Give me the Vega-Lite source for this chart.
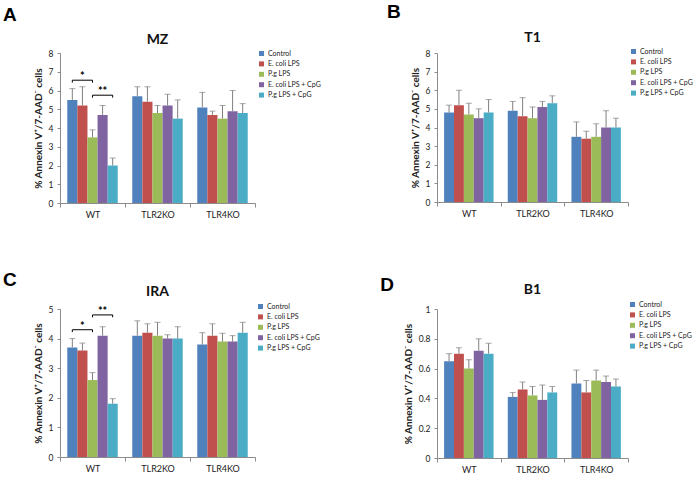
{
  "$schema": "https://vega.github.io/schema/vega-lite/v6.json",
  "background": "white",
  "padding": {"left": 3, "top": 3, "right": 0, "bottom": 0},
  "config": {
    "font": "Lato",
    "view": {"stroke": null},
    "axis": {"labelFont": "Lato", "labelFontSize": 8.5, "labelColor": "#222", "domainColor": "#8c8c8c", "tickColor": "#8c8c8c", "grid": false, "tickSize": 3, "titleFont": "Lato", "titleFontSize": 10, "titleFontWeight": "bold", "titleColor": "#222"},
    "legend": {"labelFont": "Lato", "labelFontSize": 7, "labelColor": "#222", "symbolType": "square", "symbolSize": 25, "rowPadding": 2.4, "labelOffset": 3, "symbolStrokeWidth": 0, "padding": 0},
    "title": {"font": "Lato", "fontWeight": "bold", "color": "#111"}
  },
  "datasets": {
    "bars": [
      {"panel": "MZ", "group": "WT", "treatment": "Control", "value": 5.5, "top": 6.1},
      {"panel": "MZ", "group": "WT", "treatment": "E. coli LPS", "value": 5.2, "top": 6.2},
      {"panel": "MZ", "group": "WT", "treatment": "P.g LPS", "value": 3.5, "top": 3.9},
      {"panel": "MZ", "group": "WT", "treatment": "E. coli LPS + CpG", "value": 4.7, "top": 5.2},
      {"panel": "MZ", "group": "WT", "treatment": "P.g LPS + CpG", "value": 2.0, "top": 2.4},
      {"panel": "MZ", "group": "TLR2KO", "treatment": "Control", "value": 5.7, "top": 6.2},
      {"panel": "MZ", "group": "TLR2KO", "treatment": "E. coli LPS", "value": 5.4, "top": 6.2},
      {"panel": "MZ", "group": "TLR2KO", "treatment": "P.g LPS", "value": 4.8, "top": 5.2},
      {"panel": "MZ", "group": "TLR2KO", "treatment": "E. coli LPS + CpG", "value": 5.2, "top": 5.8},
      {"panel": "MZ", "group": "TLR2KO", "treatment": "P.g LPS + CpG", "value": 4.5, "top": 5.5},
      {"panel": "MZ", "group": "TLR4KO", "treatment": "Control", "value": 5.1, "top": 5.9},
      {"panel": "MZ", "group": "TLR4KO", "treatment": "E. coli LPS", "value": 4.7, "top": 4.9},
      {"panel": "MZ", "group": "TLR4KO", "treatment": "P.g LPS", "value": 4.5, "top": 5.2},
      {"panel": "MZ", "group": "TLR4KO", "treatment": "E. coli LPS + CpG", "value": 4.9, "top": 6.0},
      {"panel": "MZ", "group": "TLR4KO", "treatment": "P.g LPS + CpG", "value": 4.8, "top": 5.3},
      {"panel": "T1", "group": "WT", "treatment": "Control", "value": 4.8, "top": 5.2},
      {"panel": "T1", "group": "WT", "treatment": "E. coli LPS", "value": 5.2, "top": 6.0},
      {"panel": "T1", "group": "WT", "treatment": "P.g LPS", "value": 4.7, "top": 5.3},
      {"panel": "T1", "group": "WT", "treatment": "E. coli LPS + CpG", "value": 4.5, "top": 5.0},
      {"panel": "T1", "group": "WT", "treatment": "P.g LPS + CpG", "value": 4.8, "top": 5.5},
      {"panel": "T1", "group": "TLR2KO", "treatment": "Control", "value": 4.9, "top": 5.4},
      {"panel": "T1", "group": "TLR2KO", "treatment": "E. coli LPS", "value": 4.6, "top": 5.6},
      {"panel": "T1", "group": "TLR2KO", "treatment": "P.g LPS", "value": 4.5, "top": 5.1},
      {"panel": "T1", "group": "TLR2KO", "treatment": "E. coli LPS + CpG", "value": 5.1, "top": 5.4},
      {"panel": "T1", "group": "TLR2KO", "treatment": "P.g LPS + CpG", "value": 5.3, "top": 5.7},
      {"panel": "T1", "group": "TLR4KO", "treatment": "Control", "value": 3.5, "top": 4.3},
      {"panel": "T1", "group": "TLR4KO", "treatment": "E. coli LPS", "value": 3.4, "top": 3.8},
      {"panel": "T1", "group": "TLR4KO", "treatment": "P.g LPS", "value": 3.5, "top": 4.2},
      {"panel": "T1", "group": "TLR4KO", "treatment": "E. coli LPS + CpG", "value": 4.0, "top": 4.9},
      {"panel": "T1", "group": "TLR4KO", "treatment": "P.g LPS + CpG", "value": 4.0, "top": 4.5},
      {"panel": "IRA", "group": "WT", "treatment": "Control", "value": 3.7, "top": 4.0},
      {"panel": "IRA", "group": "WT", "treatment": "E. coli LPS", "value": 3.6, "top": 3.85},
      {"panel": "IRA", "group": "WT", "treatment": "P.g LPS", "value": 2.6, "top": 2.85},
      {"panel": "IRA", "group": "WT", "treatment": "E. coli LPS + CpG", "value": 4.1, "top": 4.4},
      {"panel": "IRA", "group": "WT", "treatment": "P.g LPS + CpG", "value": 1.8, "top": 1.97},
      {"panel": "IRA", "group": "TLR2KO", "treatment": "Control", "value": 4.1, "top": 4.6},
      {"panel": "IRA", "group": "TLR2KO", "treatment": "E. coli LPS", "value": 4.2, "top": 4.5},
      {"panel": "IRA", "group": "TLR2KO", "treatment": "P.g LPS", "value": 4.1, "top": 4.55},
      {"panel": "IRA", "group": "TLR2KO", "treatment": "E. coli LPS + CpG", "value": 4.0, "top": 4.13},
      {"panel": "IRA", "group": "TLR2KO", "treatment": "P.g LPS + CpG", "value": 4.0, "top": 4.4},
      {"panel": "IRA", "group": "TLR4KO", "treatment": "Control", "value": 3.8, "top": 4.2},
      {"panel": "IRA", "group": "TLR4KO", "treatment": "E. coli LPS", "value": 4.1, "top": 4.5},
      {"panel": "IRA", "group": "TLR4KO", "treatment": "P.g LPS", "value": 3.9, "top": 4.18},
      {"panel": "IRA", "group": "TLR4KO", "treatment": "E. coli LPS + CpG", "value": 3.9, "top": 4.1},
      {"panel": "IRA", "group": "TLR4KO", "treatment": "P.g LPS + CpG", "value": 4.2, "top": 4.55},
      {"panel": "B1", "group": "WT", "treatment": "Control", "value": 0.65, "top": 0.70},
      {"panel": "B1", "group": "WT", "treatment": "E. coli LPS", "value": 0.70, "top": 0.74},
      {"panel": "B1", "group": "WT", "treatment": "P.g LPS", "value": 0.60, "top": 0.66},
      {"panel": "B1", "group": "WT", "treatment": "E. coli LPS + CpG", "value": 0.72, "top": 0.80},
      {"panel": "B1", "group": "WT", "treatment": "P.g LPS + CpG", "value": 0.70, "top": 0.77},
      {"panel": "B1", "group": "TLR2KO", "treatment": "Control", "value": 0.41, "top": 0.44},
      {"panel": "B1", "group": "TLR2KO", "treatment": "E. coli LPS", "value": 0.46, "top": 0.51},
      {"panel": "B1", "group": "TLR2KO", "treatment": "P.g LPS", "value": 0.42, "top": 0.48},
      {"panel": "B1", "group": "TLR2KO", "treatment": "E. coli LPS + CpG", "value": 0.39, "top": 0.49},
      {"panel": "B1", "group": "TLR2KO", "treatment": "P.g LPS + CpG", "value": 0.44, "top": 0.48},
      {"panel": "B1", "group": "TLR4KO", "treatment": "Control", "value": 0.50, "top": 0.59},
      {"panel": "B1", "group": "TLR4KO", "treatment": "E. coli LPS", "value": 0.44, "top": 0.52},
      {"panel": "B1", "group": "TLR4KO", "treatment": "P.g LPS", "value": 0.52, "top": 0.59},
      {"panel": "B1", "group": "TLR4KO", "treatment": "E. coli LPS + CpG", "value": 0.51, "top": 0.55},
      {"panel": "B1", "group": "TLR4KO", "treatment": "P.g LPS + CpG", "value": 0.48, "top": 0.53}
    ],
    "brackets": [
      {"panel": "MZ", "id": "a1", "group": "WT", "treatment": "Control", "y": 6.42, "k": 1},
      {"panel": "MZ", "id": "a1", "group": "WT", "treatment": "Control", "y": 6.55, "k": 2},
      {"panel": "MZ", "id": "a1", "group": "WT", "treatment": "P.g LPS", "y": 6.55, "k": 3},
      {"panel": "MZ", "id": "a1", "group": "WT", "treatment": "P.g LPS", "y": 6.42, "k": 4},
      {"panel": "MZ", "id": "a2", "group": "WT", "treatment": "P.g LPS", "y": 5.62, "k": 1},
      {"panel": "MZ", "id": "a2", "group": "WT", "treatment": "P.g LPS", "y": 5.75, "k": 2},
      {"panel": "MZ", "id": "a2", "group": "WT", "treatment": "P.g LPS + CpG", "y": 5.75, "k": 3},
      {"panel": "MZ", "id": "a2", "group": "WT", "treatment": "P.g LPS + CpG", "y": 5.62, "k": 4},
      {"panel": "IRA", "id": "c1", "group": "WT", "treatment": "Control", "y": 4.22, "k": 1},
      {"panel": "IRA", "id": "c1", "group": "WT", "treatment": "Control", "y": 4.3, "k": 2},
      {"panel": "IRA", "id": "c1", "group": "WT", "treatment": "P.g LPS", "y": 4.3, "k": 3},
      {"panel": "IRA", "id": "c1", "group": "WT", "treatment": "P.g LPS", "y": 4.22, "k": 4},
      {"panel": "IRA", "id": "c2", "group": "WT", "treatment": "P.g LPS", "y": 4.72, "k": 1},
      {"panel": "IRA", "id": "c2", "group": "WT", "treatment": "P.g LPS", "y": 4.8, "k": 2},
      {"panel": "IRA", "id": "c2", "group": "WT", "treatment": "P.g LPS + CpG", "y": 4.8, "k": 3},
      {"panel": "IRA", "id": "c2", "group": "WT", "treatment": "P.g LPS + CpG", "y": 4.72, "k": 4}
    ],
    "stars": [
      {"panel": "MZ", "group": "WT", "treatment": "E. coli LPS", "y": 6.55, "label": "*"},
      {"panel": "MZ", "group": "WT", "treatment": "E. coli LPS + CpG", "y": 5.75, "label": "**"},
      {"panel": "IRA", "group": "WT", "treatment": "E. coli LPS", "y": 4.3, "label": "*"},
      {"panel": "IRA", "group": "WT", "treatment": "E. coli LPS + CpG", "y": 4.8, "label": "**"}
    ]
  },
  "columns": 2,
  "spacing": {"column": 59, "row": 52},
  "resolve": {"scale": {"color": "independent", "x": "independent", "y": "independent", "xOffset": "independent"}, "legend": {"color": "independent"}},
  "concat": [
    {
      "title": {"text": "A", "anchor": "start", "frame": "bounds", "font": "Liberation Sans", "fontSize": 19, "fontWeight": "bold", "color": "#000", "dx": -30, "offset": 8},
      "resolve": {"scale": {"color": "independent"}, "legend": {"color": "independent"}},
      "vconcat": [
        {
          "width": 195, "height": 150,
          "title": {"text": "MZ", "fontSize": 14, "offset": 2},
          "encoding": {
            "x": {"field": "group", "type": "nominal", "sort": ["WT", "TLR2KO", "TLR4KO"], "scale": {"domain": ["WT", "TLR2KO", "TLR4KO"], "paddingInner": 0, "paddingOuter": 0}, "axis": {"title": null, "labelAngle": 0, "tickBand": "extent", "tickSize": 4, "labelPadding": 3, "labelFontSize": 9}},
            "xOffset": {"field": "treatment", "type": "nominal", "sort": ["Control", "E. coli LPS", "P.g LPS", "E. coli LPS + CpG", "P.g LPS + CpG"], "scale": {"domain": ["Control", "E. coli LPS", "P.g LPS", "E. coli LPS + CpG", "P.g LPS + CpG"], "paddingInner": 0, "paddingOuter": 0.72}}
          },
          "layer": [
            {
              "data": {"name": "bars"},
              "transform": [{"filter": "datum.panel === 'MZ'"}],
              "mark": {"type": "bar"},
              "encoding": {
                "y": {"field": "value", "type": "quantitative", "scale": {"domain": [0, 8], "nice": false}, "axis": {"title": "% Annexin V⁺/7-AAD⁻ cells", "values": [0, 1, 2, 3, 4, 5, 6, 7, 8], "labelPadding": 4, "titlePadding": 5}},
                "color": {"field": "treatment", "type": "nominal", "scale": {"domain": ["Control", "E. coli LPS", "P.g LPS", "E. coli LPS + CpG", "P.g LPS + CpG"], "range": ["#4F81BD", "#C0504D", "#9BBB59", "#8064A2", "#4BACC6"]}, "legend": {"title": null, "orient": "none", "legendX": 198, "legendY": -3}}
              }
            },
            {
              "data": {"name": "bars"},
              "transform": [{"filter": "datum.panel === 'MZ'"}],
              "mark": {"type": "rule", "color": "#808080", "strokeWidth": 1},
              "encoding": {"y": {"field": "value", "type": "quantitative", "axis": {"title": "% Annexin V⁺/7-AAD⁻ cells", "values": [0, 1, 2, 3, 4, 5, 6, 7, 8], "labelPadding": 4, "titlePadding": 5}}, "y2": {"field": "top"}}
            },
            {
              "data": {"name": "bars"},
              "transform": [{"filter": "datum.panel === 'MZ'"}],
              "mark": {"type": "tick", "orient": "horizontal", "color": "#808080", "size": 6, "thickness": 1},
              "encoding": {"y": {"field": "top", "type": "quantitative", "axis": {"title": "% Annexin V⁺/7-AAD⁻ cells", "values": [0, 1, 2, 3, 4, 5, 6, 7, 8], "labelPadding": 4, "titlePadding": 5}}}
            },
            {
              "data": {"name": "brackets"},
              "transform": [{"filter": "datum.panel === 'MZ'"}],
              "mark": {"type": "line", "color": "#000", "strokeWidth": 1},
              "encoding": {"y": {"field": "y", "type": "quantitative", "axis": {"title": "% Annexin V⁺/7-AAD⁻ cells", "values": [0, 1, 2, 3, 4, 5, 6, 7, 8], "labelPadding": 4, "titlePadding": 5}}, "detail": {"field": "id"}, "order": {"field": "k"}}
            },
            {
              "data": {"name": "stars"},
              "transform": [{"filter": "datum.panel === 'MZ'"}],
              "mark": {"type": "text", "baseline": "bottom", "dy": 2, "fontSize": 11, "fontWeight": "bold", "color": "#000"},
              "encoding": {"y": {"field": "y", "type": "quantitative", "axis": {"title": "% Annexin V⁺/7-AAD⁻ cells", "values": [0, 1, 2, 3, 4, 5, 6, 7, 8], "labelPadding": 4, "titlePadding": 5}}, "text": {"field": "label"}}
            }
          ]
        }
      ]
    },
    {
      "title": {"text": "B", "anchor": "start", "frame": "bounds", "font": "Liberation Sans", "fontSize": 19, "fontWeight": "bold", "color": "#000", "dx": -23, "offset": 9},
      "resolve": {"scale": {"color": "independent"}, "legend": {"color": "independent"}},
      "vconcat": [
        {
          "width": 191, "height": 149,
          "title": {"text": "T1", "fontSize": 14, "offset": 3},
          "encoding": {
            "x": {"field": "group", "type": "nominal", "sort": ["WT", "TLR2KO", "TLR4KO"], "scale": {"domain": ["WT", "TLR2KO", "TLR4KO"], "paddingInner": 0, "paddingOuter": 0}, "axis": {"title": null, "labelAngle": 0, "tickBand": "extent", "tickSize": 4, "labelPadding": 3, "labelFontSize": 9}},
            "xOffset": {"field": "treatment", "type": "nominal", "sort": ["Control", "E. coli LPS", "P.g LPS", "E. coli LPS + CpG", "P.g LPS + CpG"], "scale": {"domain": ["Control", "E. coli LPS", "P.g LPS", "E. coli LPS + CpG", "P.g LPS + CpG"], "paddingInner": 0, "paddingOuter": 0.72}}
          },
          "layer": [
            {
              "data": {"name": "bars"},
              "transform": [{"filter": "datum.panel === 'T1'"}],
              "mark": {"type": "bar"},
              "encoding": {
                "y": {"field": "value", "type": "quantitative", "scale": {"domain": [0, 8], "nice": false}, "axis": {"title": "% Annexin V⁺/7-AAD⁻ cells", "values": [0, 1, 2, 3, 4, 5, 6, 7, 8], "labelPadding": 4, "titlePadding": 5}},
                "color": {"field": "treatment", "type": "nominal", "scale": {"domain": ["Control", "E. coli LPS", "P.g LPS", "E. coli LPS + CpG", "P.g LPS + CpG"], "range": ["#4F81BD", "#C0504D", "#9BBB59", "#8064A2", "#4BACC6"]}, "legend": {"title": null, "orient": "none", "legendX": 193, "legendY": -5}}
              }
            },
            {
              "data": {"name": "bars"},
              "transform": [{"filter": "datum.panel === 'T1'"}],
              "mark": {"type": "rule", "color": "#808080", "strokeWidth": 1},
              "encoding": {"y": {"field": "value", "type": "quantitative", "axis": {"title": "% Annexin V⁺/7-AAD⁻ cells", "values": [0, 1, 2, 3, 4, 5, 6, 7, 8], "labelPadding": 4, "titlePadding": 5}}, "y2": {"field": "top"}}
            },
            {
              "data": {"name": "bars"},
              "transform": [{"filter": "datum.panel === 'T1'"}],
              "mark": {"type": "tick", "orient": "horizontal", "color": "#808080", "size": 6, "thickness": 1},
              "encoding": {"y": {"field": "top", "type": "quantitative", "axis": {"title": "% Annexin V⁺/7-AAD⁻ cells", "values": [0, 1, 2, 3, 4, 5, 6, 7, 8], "labelPadding": 4, "titlePadding": 5}}}
            }
          ]
        }
      ]
    },
    {
      "title": {"text": "C", "anchor": "start", "frame": "bounds", "font": "Liberation Sans", "fontSize": 19, "fontWeight": "bold", "color": "#000", "dx": -30, "offset": -5},
      "resolve": {"scale": {"color": "independent"}, "legend": {"color": "independent"}},
      "vconcat": [
        {
          "width": 195, "height": 148,
          "title": {"text": "IRA", "fontSize": 14, "offset": 4},
          "encoding": {
            "x": {"field": "group", "type": "nominal", "sort": ["WT", "TLR2KO", "TLR4KO"], "scale": {"domain": ["WT", "TLR2KO", "TLR4KO"], "paddingInner": 0, "paddingOuter": 0}, "axis": {"title": null, "labelAngle": 0, "tickBand": "extent", "tickSize": 4, "labelPadding": 3, "labelFontSize": 9}},
            "xOffset": {"field": "treatment", "type": "nominal", "sort": ["Control", "E. coli LPS", "P.g LPS", "E. coli LPS + CpG", "P.g LPS + CpG"], "scale": {"domain": ["Control", "E. coli LPS", "P.g LPS", "E. coli LPS + CpG", "P.g LPS + CpG"], "paddingInner": 0, "paddingOuter": 0.72}}
          },
          "layer": [
            {
              "data": {"name": "bars"},
              "transform": [{"filter": "datum.panel === 'IRA'"}],
              "mark": {"type": "bar"},
              "encoding": {
                "y": {"field": "value", "type": "quantitative", "scale": {"domain": [0, 5], "nice": false}, "axis": {"title": "% Annexin V⁺/7-AAD⁻ cells", "values": [0, 1, 2, 3, 4, 5], "labelPadding": 4, "titlePadding": 5}},
                "color": {"field": "treatment", "type": "nominal", "scale": {"domain": ["Control", "E. coli LPS", "P.g LPS", "E. coli LPS + CpG", "P.g LPS + CpG"], "range": ["#4F81BD", "#C0504D", "#9BBB59", "#8064A2", "#4BACC6"]}, "legend": {"title": null, "orient": "none", "legendX": 197, "legendY": -6}}
              }
            },
            {
              "data": {"name": "bars"},
              "transform": [{"filter": "datum.panel === 'IRA'"}],
              "mark": {"type": "rule", "color": "#808080", "strokeWidth": 1},
              "encoding": {"y": {"field": "value", "type": "quantitative", "axis": {"title": "% Annexin V⁺/7-AAD⁻ cells", "values": [0, 1, 2, 3, 4, 5], "labelPadding": 4, "titlePadding": 5}}, "y2": {"field": "top"}}
            },
            {
              "data": {"name": "bars"},
              "transform": [{"filter": "datum.panel === 'IRA'"}],
              "mark": {"type": "tick", "orient": "horizontal", "color": "#808080", "size": 6, "thickness": 1},
              "encoding": {"y": {"field": "top", "type": "quantitative", "axis": {"title": "% Annexin V⁺/7-AAD⁻ cells", "values": [0, 1, 2, 3, 4, 5], "labelPadding": 4, "titlePadding": 5}}}
            },
            {
              "data": {"name": "brackets"},
              "transform": [{"filter": "datum.panel === 'IRA'"}],
              "mark": {"type": "line", "color": "#000", "strokeWidth": 1},
              "encoding": {"y": {"field": "y", "type": "quantitative", "axis": {"title": "% Annexin V⁺/7-AAD⁻ cells", "values": [0, 1, 2, 3, 4, 5], "labelPadding": 4, "titlePadding": 5}}, "detail": {"field": "id"}, "order": {"field": "k"}}
            },
            {
              "data": {"name": "stars"},
              "transform": [{"filter": "datum.panel === 'IRA'"}],
              "mark": {"type": "text", "baseline": "bottom", "dy": 2, "fontSize": 11, "fontWeight": "bold", "color": "#000"},
              "encoding": {"y": {"field": "y", "type": "quantitative", "axis": {"title": "% Annexin V⁺/7-AAD⁻ cells", "values": [0, 1, 2, 3, 4, 5], "labelPadding": 4, "titlePadding": 5}}, "text": {"field": "label"}}
            }
          ]
        }
      ]
    },
    {
      "title": {"text": "D", "anchor": "start", "frame": "bounds", "font": "Liberation Sans", "fontSize": 19, "fontWeight": "bold", "color": "#000", "dx": -23, "offset": -12},
      "resolve": {"scale": {"color": "independent"}, "legend": {"color": "independent"}},
      "vconcat": [
        {
          "width": 191, "height": 149,
          "title": {"text": "B1", "fontSize": 14, "offset": 4},
          "encoding": {
            "x": {"field": "group", "type": "nominal", "sort": ["WT", "TLR2KO", "TLR4KO"], "scale": {"domain": ["WT", "TLR2KO", "TLR4KO"], "paddingInner": 0, "paddingOuter": 0}, "axis": {"title": null, "labelAngle": 0, "tickBand": "extent", "tickSize": 4, "labelPadding": 3, "labelFontSize": 9}},
            "xOffset": {"field": "treatment", "type": "nominal", "sort": ["Control", "E. coli LPS", "P.g LPS", "E. coli LPS + CpG", "P.g LPS + CpG"], "scale": {"domain": ["Control", "E. coli LPS", "P.g LPS", "E. coli LPS + CpG", "P.g LPS + CpG"], "paddingInner": 0, "paddingOuter": 0.72}}
          },
          "layer": [
            {
              "data": {"name": "bars"},
              "transform": [{"filter": "datum.panel === 'B1'"}],
              "mark": {"type": "bar"},
              "encoding": {
                "y": {"field": "value", "type": "quantitative", "scale": {"domain": [0, 1], "nice": false}, "axis": {"title": "% Annexin V⁺/7-AAD⁻ cells", "values": [0, 0.2, 0.4, 0.6, 0.8, 1], "format": "~g", "labelPadding": 4, "titlePadding": 5}},
                "color": {"field": "treatment", "type": "nominal", "scale": {"domain": ["Control", "E. coli LPS", "P.g LPS", "E. coli LPS + CpG", "P.g LPS + CpG"], "range": ["#4F81BD", "#C0504D", "#9BBB59", "#8064A2", "#4BACC6"]}, "legend": {"title": null, "orient": "none", "legendX": 192, "legendY": -8}}
              }
            },
            {
              "data": {"name": "bars"},
              "transform": [{"filter": "datum.panel === 'B1'"}],
              "mark": {"type": "rule", "color": "#808080", "strokeWidth": 1},
              "encoding": {"y": {"field": "value", "type": "quantitative", "axis": {"title": "% Annexin V⁺/7-AAD⁻ cells", "values": [0, 0.2, 0.4, 0.6, 0.8, 1], "format": "~g", "labelPadding": 4, "titlePadding": 5}}, "y2": {"field": "top"}}
            },
            {
              "data": {"name": "bars"},
              "transform": [{"filter": "datum.panel === 'B1'"}],
              "mark": {"type": "tick", "orient": "horizontal", "color": "#808080", "size": 6, "thickness": 1},
              "encoding": {"y": {"field": "top", "type": "quantitative", "axis": {"title": "% Annexin V⁺/7-AAD⁻ cells", "values": [0, 0.2, 0.4, 0.6, 0.8, 1], "format": "~g", "labelPadding": 4, "titlePadding": 5}}}
            }
          ]
        }
      ]
    }
  ]
}
